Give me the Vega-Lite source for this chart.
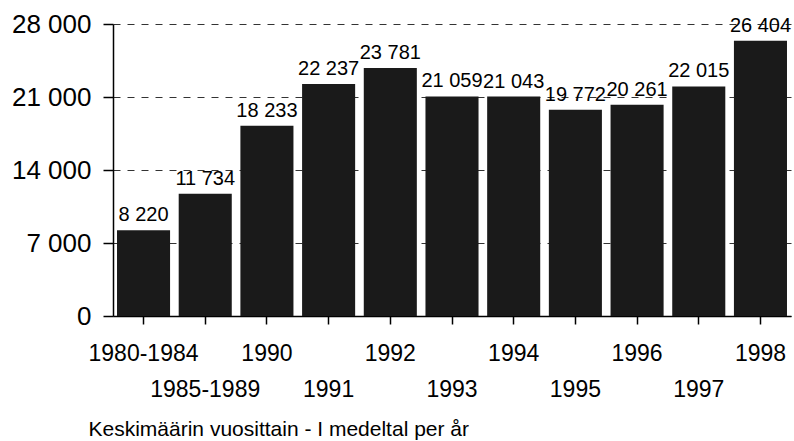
{
  "$schema": "https://vega.github.io/schema/vega-lite/v6.json",
  "width": 678,
  "height": 292,
  "autosize": {"type": "none"},
  "padding": {"left": 113, "top": 24, "right": 3, "bottom": 125},
  "background": "white",
  "config": {
    "view": {"stroke": null},
    "font": "Liberation Sans",
    "locale": {"number": {"decimal": ",", "thousands": " ", "grouping": [3], "currency": ["", " €"]}}
  },
  "data": {
    "values": [
      {"period": "1980-1984", "value": 8220},
      {"period": "1985-1989", "value": 11734},
      {"period": "1990", "value": 18233},
      {"period": "1991", "value": 22237},
      {"period": "1992", "value": 23781},
      {"period": "1993", "value": 21059},
      {"period": "1994", "value": 21043},
      {"period": "1995", "value": 19772},
      {"period": "1996", "value": 20261},
      {"period": "1997", "value": 22015},
      {"period": "1998", "value": 26404}
    ]
  },
  "encoding": {
    "x": {
      "field": "period",
      "type": "nominal",
      "sort": null,
      "scale": {"paddingInner": 0.14, "paddingOuter": 0.065},
      "axis": {
        "title": "Keskimäärin vuosittain - I medeltal per år",
        "titleFont": "Liberation Sans",
        "titleFontSize": 21,
        "titleFontWeight": "normal",
        "titleColor": "black",
        "titleAlign": "left",
        "titleX": -25,
        "titleY": 119,
        "titleBaseline": "alphabetic",
        "labelAngle": 0,
        "labelFont": "Liberation Sans",
        "labelFontSize": 23,
        "labelColor": "black",
        "labelPadding": 18,
        "labelLineHeight": 36,
        "labelExpr": "indexof(['1985-1989','1991','1993','1995','1997'], datum.value) >= 0 ? ['', datum.value] : datum.value",
        "tickSize": 8,
        "tickColor": "black",
        "tickWidth": 1.5,
        "domainColor": "black",
        "domainWidth": 1.5,
        "grid": false
      }
    },
    "y": {
      "field": "value",
      "type": "quantitative",
      "scale": {"domain": [0, 28000], "nice": false},
      "axis": {
        "title": null,
        "values": [0, 7000, 14000, 21000, 28000],
        "format": ",d",
        "labelFont": "Liberation Sans",
        "labelFontSize": 26,
        "labelColor": "black",
        "labelPadding": 12,
        "tickSize": 10,
        "tickColor": "black",
        "tickWidth": 1.5,
        "domainColor": "black",
        "domainWidth": 1.5,
        "grid": true,
        "gridDash": [7, 7],
        "gridColor": "#333333",
        "gridWidth": 1
      }
    }
  },
  "layer": [
    {"mark": {"type": "bar", "color": "#1a1a1a"}},
    {
      "mark": {"type": "text", "baseline": "alphabetic", "dy": -9, "fontSize": 20, "font": "Liberation Sans", "color": "black"},
      "encoding": {"text": {"field": "value", "type": "quantitative", "format": ",d"}}
    }
  ]
}
